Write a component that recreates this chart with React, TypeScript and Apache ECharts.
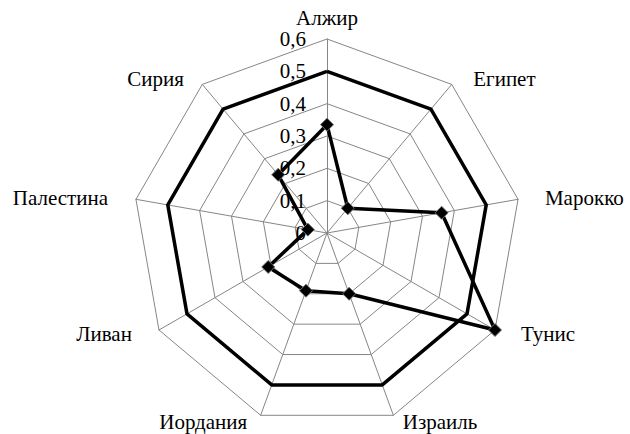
import React, { useEffect, useRef } from "react";
import * as echarts from "echarts";

const countries = ["Алжир", "Египет", "Марокко", "Тунис", "Израиль", "Иордания", "Ливан", "Палестина", "Сирия"];
const referenceValues = [0.5, 0.5, 0.5, 0.5, 0.5, 0.5, 0.5, 0.5, 0.5];
const countryValues = [0.335, 0.1, 0.36, 0.6, 0.2, 0.19, 0.21, 0.06, 0.235];
const axisMin = 0;
const axisMax = 0.6;
const axisSteps = 6;

// padding per country (same order as countries)
const namePadding: number[][] = [
  [0, 0, 0, 0],
  [0, 0, 0, 17],
  [0, 0, 0, 20],
  [0, 0, 0, 20],
  [0, 0, 0, 7],
  [0, 11, 0, 0],
  [0, 21, 0, 0],
  [0, 21, 0, 0],
  [0, 14, 0, 0],
];

const FONT = "Liberation Serif";

// ECharts radar runs counter-clockwise; reverse all but first to go clockwise
const order = countries.map((_, i) => (i === 0 ? 0 : countries.length - i));

export default function App() {
  const ref = useRef<HTMLDivElement>(null);
  useEffect(() => {
    if (!ref.current) return;
    const chart = echarts.init(ref.current, undefined, { renderer: "svg" });
    chart.setOption({
      animation: false,
      backgroundColor: "#ffffff",
      textStyle: { fontFamily: FONT },
      radar: {
        center: [327, 233],
        radius: 194,
        shape: "polygon",
        startAngle: 90,
        splitNumber: axisSteps,
        nameGap: 7,
        axisName: {
          color: "#000000",
          fontFamily: FONT,
          fontSize: 21,
        },
        axisLine: { lineStyle: { color: "#868686", width: 1 } },
        splitLine: { lineStyle: { color: "#868686", width: 1 } },
        splitArea: { show: false },
        axisTick: { show: false },
        axisLabel: { show: false },
        indicator: order.map((k, i) => ({
          name: countries[k],
          min: axisMin,
          max: axisMax,
          nameTextStyle: { padding: namePadding[k], fontFamily: FONT },
          ...(i === 0
            ? {
                axisLabel: {
                  show: true,
                  margin: 21,
                  color: "#000000",
                  fontFamily: FONT,
                  fontSize: 21,
                  formatter: (v: number) => String(Math.round(v * 10) / 10).replace(".", ","),
                },
              }
            : {}),
        })),
      },
      series: [
        {
          type: "radar",
          data: [
            {
              value: order.map((k) => referenceValues[k]),
              name: "0,5",
              symbol: "none",
              lineStyle: { color: "#000000", width: 3.5 },
            },
            {
              value: order.map((k) => countryValues[k]),
              name: "Страны",
              symbol: "diamond",
              symbolSize: 13,
              itemStyle: { color: "#000000", borderColor: "#6e6e6e", borderWidth: 1 },
              lineStyle: { color: "#000000", width: 3.5 },
            },
          ],
        },
      ],
    });
    return () => chart.dispose();
  }, []);
  return <div ref={ref} style={{ position: "fixed", left: 0, top: 0, width: 630, height: 434 }} />;
}
